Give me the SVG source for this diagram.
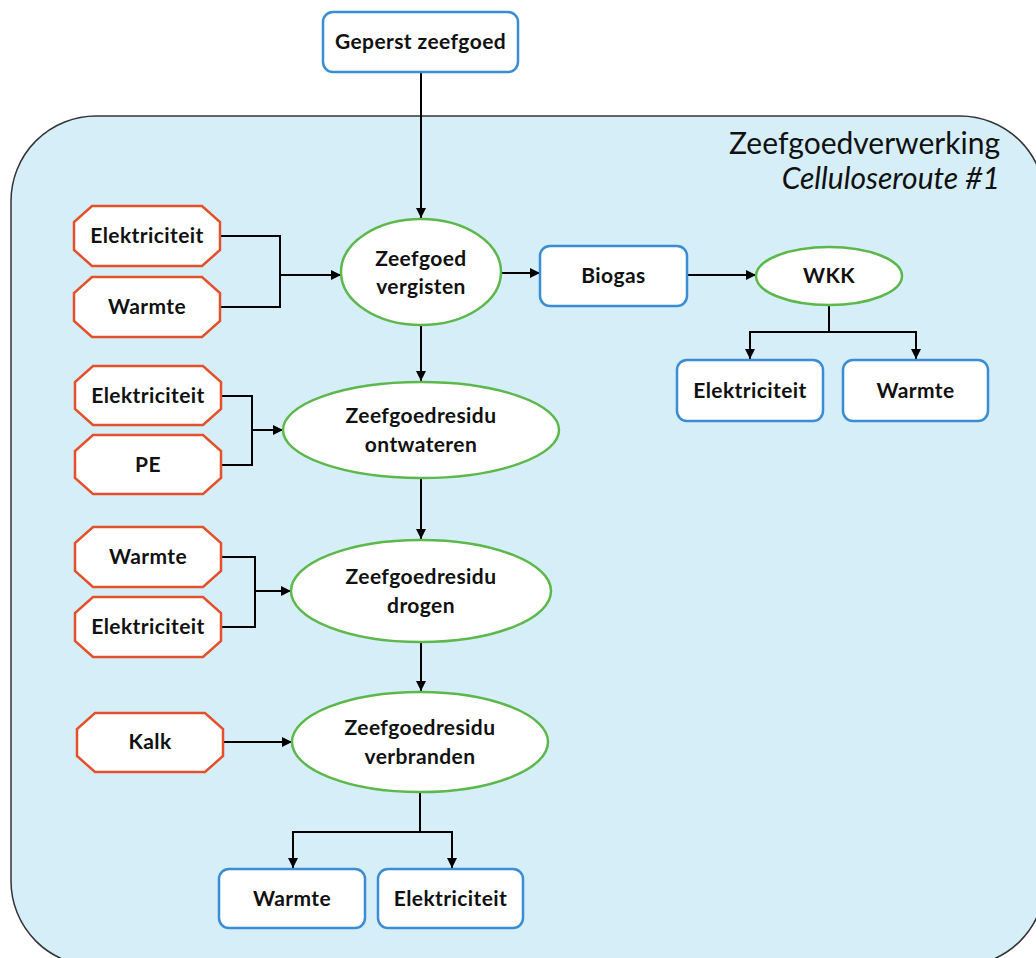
<svg xmlns="http://www.w3.org/2000/svg" width="1036" height="958" viewBox="0 0 1036 958">
  <defs>
    <marker id="arrow" viewBox="0 0 10 10" refX="10" refY="5" markerWidth="5" markerHeight="5" orient="auto" markerUnits="strokeWidth">
      <path d="M0,0 L10,5 L0,10 z" fill="#000"/>
    </marker>
    <style>
      .proc { fill: #ffffff; stroke: #5cb84a; stroke-width: 2.5; }
      .out { fill: #ffffff; stroke: #3a8dd2; stroke-width: 2.5; }
      .in { fill: #ffffff; stroke: #e5502b; stroke-width: 2.5; }
      .lbl { font-family: "Lato", "Liberation Sans", sans-serif; font-weight: bold; font-size: 21px; letter-spacing: 0.4px; fill: #111111; text-anchor: middle; }
      .conn { fill: none; stroke: #000000; stroke-width: 2; }
      .title { font-family: "Lato", "Liberation Sans", sans-serif; font-size: 30px; fill: #111111; text-anchor: end; }
    </style>
  </defs>

  <rect width="1036" height="958" fill="#ffffff"/>

  <!-- process boundary -->
  <g id="boundary">
    <rect x="11" y="116" width="1034" height="850" rx="85" ry="85" fill="#d6eef8" stroke="#333333" stroke-width="1.5"/>
    <text class="title" x="1000" y="154">Zeefgoedverwerking</text>
    <text class="title" x="1000" y="189" font-style="italic">Celluloseroute #1</text>
  </g>

  <!-- connectors -->
  <g id="connectors">
    <path class="conn" d="M421,72 V218" marker-end="url(#arrow)"/>
    <path class="conn" d="M220,236 H280 V307 H220 M280,275 H341" marker-end="url(#arrow)"/>
    <path class="conn" d="M500,273 H540" marker-end="url(#arrow)"/>
    <path class="conn" d="M687,275 H756" marker-end="url(#arrow)"/>
    <path class="conn" d="M829,305 V332 H750 V359" marker-end="url(#arrow)"/>
    <path class="conn" d="M829,332 H916 V359" marker-end="url(#arrow)"/>
    <path class="conn" d="M421,325 V381" marker-end="url(#arrow)"/>
    <path class="conn" d="M221,396 H252 V465 H221 M252,430 H283" marker-end="url(#arrow)"/>
    <path class="conn" d="M421,478 V539" marker-end="url(#arrow)"/>
    <path class="conn" d="M221,557 H255 V627 H221 M255,591 H291" marker-end="url(#arrow)"/>
    <path class="conn" d="M421,643 V691" marker-end="url(#arrow)"/>
    <path class="conn" d="M223,742 H292" marker-end="url(#arrow)"/>
    <path class="conn" d="M420,793 V832 H293 V868" marker-end="url(#arrow)"/>
    <path class="conn" d="M420,832 H452 V868" marker-end="url(#arrow)"/>
  </g>

  <!-- input -->
  <g id="geperst-zeefgoed">
    <rect class="out" x="323" y="12" width="195" height="60" rx="10"/>
    <text class="lbl" x="420.5" y="49">Geperst zeefgoed</text>
  </g>

  <!-- digestion -->
  <g id="vergisten">
    <ellipse class="proc" cx="421" cy="272" rx="80" ry="53"/>
    <text class="lbl" x="421" y="266">Zeefgoed</text>
    <text class="lbl" x="421" y="294">vergisten</text>
  </g>
  <g id="vergisten-elektriciteit">
    <polygon class="in" points="92,206 202,206 220,222 220,250 202,266 92,266 74,250 74,222"/>
    <text class="lbl" x="147" y="243">Elektriciteit</text>
  </g>
  <g id="vergisten-warmte">
    <polygon class="in" points="92,277 202,277 220,293 220,321 202,337 92,337 74,321 74,293"/>
    <text class="lbl" x="147" y="314">Warmte</text>
  </g>
  <g id="biogas">
    <rect class="out" x="540" y="246" width="147" height="60" rx="10"/>
    <text class="lbl" x="613.5" y="283">Biogas</text>
  </g>
  <g id="wkk">
    <ellipse class="proc" cx="829" cy="276" rx="73" ry="29"/>
    <text class="lbl" x="829" y="283">WKK</text>
  </g>
  <g id="wkk-elektriciteit">
    <rect class="out" x="677" y="360" width="146" height="61" rx="10"/>
    <text class="lbl" x="750" y="398">Elektriciteit</text>
  </g>
  <g id="wkk-warmte">
    <rect class="out" x="843" y="360" width="145" height="61" rx="10"/>
    <text class="lbl" x="915.5" y="398">Warmte</text>
  </g>

  <!-- dewatering -->
  <g id="ontwateren">
    <ellipse class="proc" cx="421" cy="430" rx="138" ry="48"/>
    <text class="lbl" x="421" y="423">Zeefgoedresidu</text>
    <text class="lbl" x="421" y="452">ontwateren</text>
  </g>
  <g id="ontwateren-elektriciteit">
    <polygon class="in" points="93,366 203,366 221,382 221,409 203,425 93,425 75,409 75,382"/>
    <text class="lbl" x="148" y="403">Elektriciteit</text>
  </g>
  <g id="ontwateren-pe">
    <polygon class="in" points="93,435 203,435 221,451 221,478 203,494 93,494 75,478 75,451"/>
    <text class="lbl" x="148" y="472">PE</text>
  </g>

  <!-- drying -->
  <g id="drogen">
    <ellipse class="proc" cx="421" cy="591" rx="130" ry="51"/>
    <text class="lbl" x="421" y="584">Zeefgoedresidu</text>
    <text class="lbl" x="421" y="613">drogen</text>
  </g>
  <g id="drogen-warmte">
    <polygon class="in" points="93,527 203,527 221,543 221,571 203,587 93,587 75,571 75,543"/>
    <text class="lbl" x="148" y="564">Warmte</text>
  </g>
  <g id="drogen-elektriciteit">
    <polygon class="in" points="93,597 203,597 221,613 221,641 203,657 93,657 75,641 75,613"/>
    <text class="lbl" x="148" y="634">Elektriciteit</text>
  </g>

  <!-- incineration -->
  <g id="verbranden">
    <ellipse class="proc" cx="420" cy="742" rx="128" ry="50"/>
    <text class="lbl" x="420" y="735">Zeefgoedresidu</text>
    <text class="lbl" x="420" y="764">verbranden</text>
  </g>
  <g id="verbranden-kalk">
    <polygon class="in" points="95,713 205,713 223,729 223,756 205,772 95,772 77,756 77,729"/>
    <text class="lbl" x="150" y="749">Kalk</text>
  </g>
  <g id="verbranden-warmte">
    <rect class="out" x="219" y="869" width="146" height="59" rx="10"/>
    <text class="lbl" x="292" y="906">Warmte</text>
  </g>
  <g id="verbranden-elektriciteit">
    <rect class="out" x="378" y="869" width="145" height="59" rx="10"/>
    <text class="lbl" x="450.5" y="906">Elektriciteit</text>
  </g>
</svg>
